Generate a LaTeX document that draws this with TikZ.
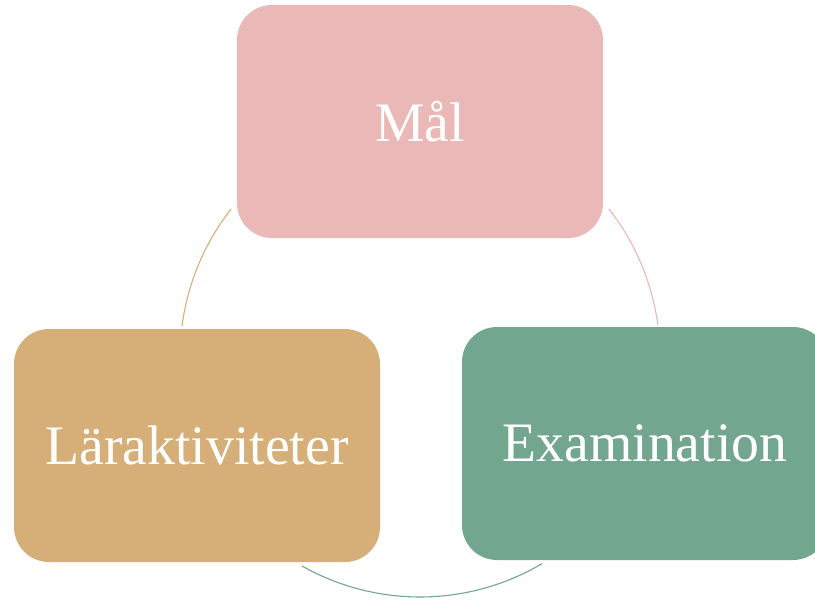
\documentclass[tikz,border=0pt]{standalone}
\usepackage{fontspec}
\setmainfont{Liberation Serif}
\definecolor{pinkbox}{HTML}{E9B8B7}
\definecolor{tanbox}{HTML}{D5AE78}
\definecolor{greenbox}{HTML}{72A68F}
\begin{document}
\begin{tikzpicture}[x=1pt,y=-1pt,
  stagebox/.style={rounded corners=35pt, minimum width=366pt, minimum height=233pt,
    inner sep=0pt, text=white, font=\fontsize{55.7}{60}\selectfont},
  cyclearc/.style={line width=1.1pt}]
\useasboundingbox (0,0) rectangle (815,600);
\coordinate (c) at (420,357);
\draw[cyclearc, tanbox] (c) ++(141.9:240pt) arc[start angle=141.9, end angle=172.6, radius=240pt];
\draw[cyclearc, pinkbox] (c) ++(38.1:240pt) arc[start angle=38.1, end angle=7.7, radius=240pt];
\draw[cyclearc, greenbox] (c) ++(240.5:240pt) arc[start angle=240.5, end angle=300.6, radius=240pt];
\node[stagebox, fill=pinkbox] (mal) at (420,121.5) {Mål};
\node[stagebox, fill=tanbox] (lar) at (197,445.5) {Läraktiviteter};
\node[stagebox, fill=greenbox] (exa) at (645,443.5) {Examination};
\end{tikzpicture}
\end{document}
